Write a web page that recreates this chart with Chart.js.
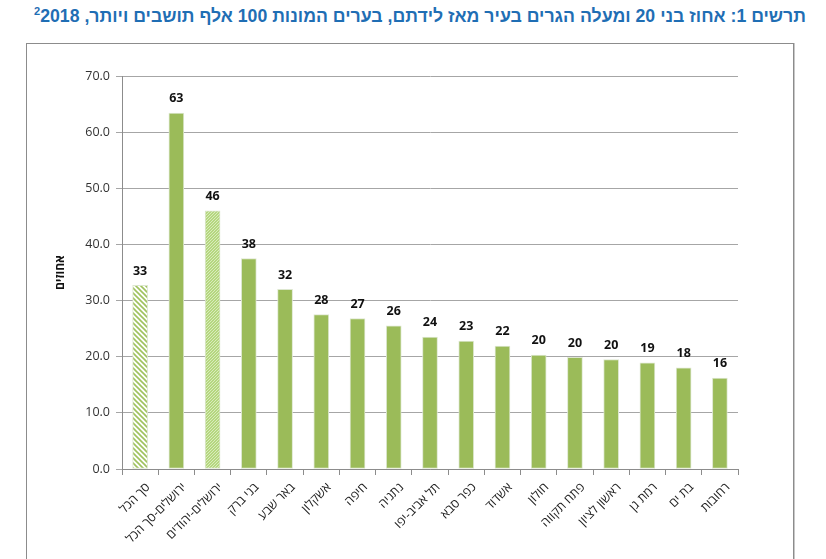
<!DOCTYPE html>
<html lang="he">
<head>
    <meta charset="UTF-8">
    <title>תרשים 1</title>
    <script src="https://cdn.jsdelivr.net/npm/chart.js"></script>
    <style>
        html, body { margin: 0; padding: 0; background: #fff; }
        body { width: 826px; height: 559px; position: relative; overflow: hidden; }
        .title {
            position: absolute; top: 5px; right: 20px;
            direction: rtl; white-space: nowrap;
            font-family: 'Liberation Sans', Arial, sans-serif;
            font-weight: bold; font-size: 17.7px; color: #1f6eb4;
        }
        .title sup { font-size: 11px; }
        .frame {
            position: absolute; left: 26px; top: 43px; width: 766px; height: 520px;
            border: 1px solid #8c8c8c; box-shadow: 1px 0 0 #c8c8c8;
        }
        #chartWrap { position: absolute; left: 0; top: 0; width: 826px; height: 559px; }
    </style>
</head>
<body>
    <div class="title">תרשים 1: אחוז בני 20 ומעלה הגרים בעיר מאז לידתם, בערים המונות 100 אלף תושבים ויותר, <span dir="ltr"><sup>2</sup>2018</span></div>
    <div class="frame"></div>
    <div id="chartWrap"><canvas id="cityChart"></canvas></div>

    <script>
        // data
        const cities = ['סך הכל', 'ירושלים-סך הכל', 'ירושלים-יהודים', 'בני ברק', 'באר שבע', 'אשקלון', 'חיפה',
            'נתניה', 'תל אביב-יפו', 'כפר סבא', 'אשדוד', 'חולון', 'פתח תקווה', 'ראשון לציון', 'רמת גן', 'בת ים', 'רחובות'];
        const percents = [32.7, 63.4, 46.0, 37.5, 32.0, 27.5, 26.8, 25.5, 23.5, 22.8, 21.9, 20.3, 19.9, 19.5, 18.9, 18.0, 16.2];
        const barStyles = ['stripes', 'solid', 'dots', 'solid', 'solid', 'solid', 'solid', 'solid', 'solid',
            'solid', 'solid', 'solid', 'solid', 'solid', 'solid', 'solid', 'solid'];
        const yTicks = [0, 10, 20, 30, 40, 50, 60, 70];
        const yTitle = 'אחוזים';

        const GREEN = '#9bbb59';

        function stripePattern() {
            const c = document.createElement('canvas');
            c.width = 5; c.height = 5;
            const g = c.getContext('2d');
            g.fillStyle = '#ffffff';
            g.fillRect(0, 0, 5, 5);
            g.strokeStyle = '#9fc25e';
            g.lineWidth = 1.6;
            g.beginPath();
            g.moveTo(-1, -1); g.lineTo(6, 6);
            g.moveTo(-1, 4); g.lineTo(1, 6);
            g.moveTo(4, -1); g.lineTo(6, 1);
            g.stroke();
            return g.createPattern(c, 'repeat');
        }

        function dotPattern() {
            const c = document.createElement('canvas');
            c.width = 3; c.height = 3;
            const g = c.getContext('2d');
            g.fillStyle = '#b5d77f';
            g.fillRect(0, 0, 3, 3);
            g.fillStyle = '#d9ecbc';
            g.fillRect(0, 0, 1, 1);
            g.fillRect(2, 1, 1, 1);
            g.fillRect(1, 2, 1, 1);
            return g.createPattern(c, 'repeat');
        }

        const fills = barStyles.map(s => s === 'stripes' ? stripePattern() : s === 'dots' ? dotPattern() : GREEN);

        // value labels above the bars
        const barLabels = {
            id: 'barLabels',
            afterDatasetsDraw(chart) {
                const ctx = chart.ctx;
                const meta = chart.getDatasetMeta(0);
                ctx.save();
                ctx.font = 'bold 12.5px "Open Sans", sans-serif';
                ctx.fillStyle = '#111';
                ctx.textAlign = 'center';
                ctx.textBaseline = 'bottom';
                meta.data.forEach((bar, i) => {
                    ctx.fillText(Math.round(percents[i]), bar.x, bar.y - 8);
                });
                ctx.restore();
            }
        };

        new Chart(document.getElementById('cityChart'), {
            type: 'bar',
            data: {
                labels: cities,
                datasets: [{
                    data: percents,
                    backgroundColor: fills,
                    borderColor: '#dde7cf',
                    borderWidth: 1,
                    barThickness: 15,
                    borderSkipped: false
                }]
            },
            options: {
                responsive: true,
                maintainAspectRatio: false,
                animation: false,
                layout: { padding: { left: 26, right: 88, top: 76, bottom: 0 } },
                plugins: {
                    legend: { display: false },
                    tooltip: { enabled: false }
                },
                scales: {
                    x: {
                        afterFit: s => { s.height = 90; },
                        grid: { offset: true, drawOnChartArea: false, tickLength: 6, color: '#8c8c8c' },
                        border: { color: '#8c8c8c' },
                        ticks: {
                            autoSkip: false, maxRotation: 45, minRotation: 45, padding: 5, labelOffset: 8,
                            color: '#222', font: { family: '"Open Sans", sans-serif', size: 12.5 }
                        }
                    },
                    y: {
                        min: 0, max: 70,
                        afterFit: s => { s.width = 96; },
                        afterBuildTicks: s => { s.ticks = yTicks.map(v => ({ value: v })); },
                        grid: { color: '#a6a6a6', tickLength: 6 },
                        border: { color: '#8c8c8c' },
                        ticks: {
                            padding: 6, color: '#333',
                            font: { family: '"Open Sans", sans-serif', size: 12.5 },
                            callback: v => v.toFixed(1)
                        },
                        title: {
                            display: true, text: yTitle, padding: { top: 27, bottom: 0 },
                            color: '#111', font: { family: '"Open Sans", sans-serif', size: 12, weight: 'bold' }
                        }
                    }
                }
            },
            plugins: [barLabels]
        });
    </script>
</body>
</html>
